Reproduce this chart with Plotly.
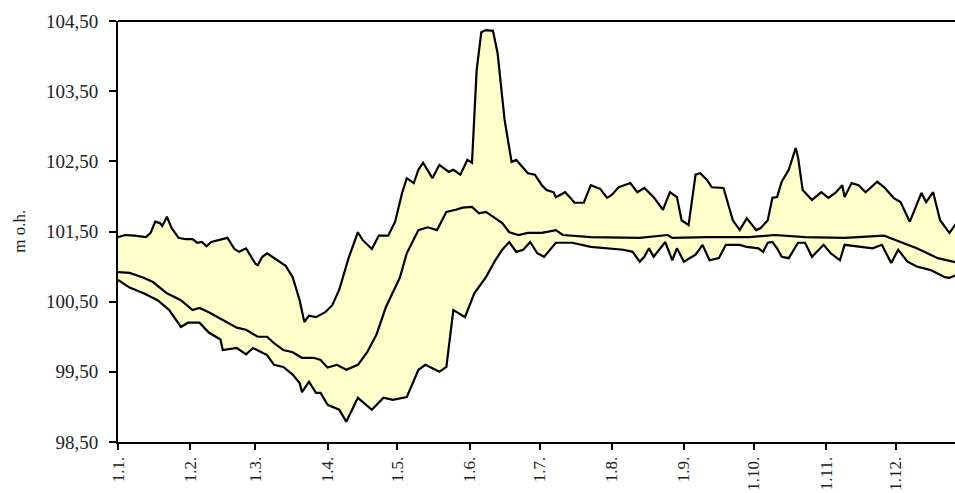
import pandas as pd
import plotly.graph_objects as go

# Daily water level (m o.h.) over the year: maximum, mean and minimum envelopes.
# Positions are given as day offsets from 1 January.
max_days = [
    0, 3, 7, 12, 14, 16, 18, 19, 21, 23,
    26, 29, 32, 34, 36, 38, 40, 44, 47, 50,
    52, 55, 57, 59, 60, 62, 64, 67, 72, 75,
    78, 80, 82, 85, 87, 89, 92, 95, 99, 103,
    105, 109, 112, 116, 119, 122, 124, 127, 129, 131,
    135, 138, 142, 144, 147, 150, 152, 154, 156, 158,
    161, 163, 166, 169, 171, 174, 176, 179, 182, 184,
    187, 188, 192, 194, 196, 200, 203, 206, 207, 210,
    212, 215, 220, 223, 226, 230, 234, 237, 240, 242,
    245, 248, 250, 253, 255, 260, 264, 267, 270, 274,
    276, 279, 281, 283, 285, 288, 291, 292, 294, 298,
    302, 305, 308, 311, 312, 315, 318, 321, 326, 329,
    333, 336, 340, 345, 347, 350, 353, 357, 360,
]
max_level = [
    101.42, 101.45, 101.44, 101.42, 101.48, 101.64, 101.62, 101.58, 101.71, 101.55,
    101.41, 101.39, 101.39, 101.34, 101.35, 101.29, 101.35, 101.38, 101.41, 101.25,
    101.21, 101.26, 101.15, 101.04, 101.02, 101.14, 101.19, 101.12, 101.01, 100.85,
    100.52, 100.21, 100.30, 100.28, 100.32, 100.35, 100.45, 100.67, 101.12, 101.49,
    101.38, 101.25, 101.44, 101.44, 101.64, 102.05, 102.26, 102.19, 102.38, 102.48,
    102.26, 102.45, 102.35, 102.38, 102.31, 102.52, 102.48, 103.80, 104.34, 104.37,
    104.36, 104.04, 103.09, 102.49, 102.52, 102.41, 102.33, 102.31, 102.16, 102.09,
    102.06, 101.99, 102.06, 101.99, 101.91, 101.91, 102.16, 102.12, 102.11, 101.98,
    102.02, 102.13, 102.19, 102.06, 102.12, 101.99, 101.81, 102.06, 101.99, 101.66,
    101.59, 102.31, 102.33, 102.23, 102.13, 102.12, 101.66, 101.52, 101.69, 101.52,
    101.55, 101.66, 101.98, 101.99, 102.21, 102.38, 102.69, 102.56, 102.09, 101.95,
    102.06, 101.98, 102.05, 102.16, 101.99, 102.19, 102.16, 102.06, 102.21, 102.13,
    101.98, 101.92, 101.64, 102.05, 101.92, 102.06, 101.66, 101.48, 101.62,
]

mean_days = [
    0, 5, 11, 15, 21, 27, 32, 35, 39, 43,
    47, 51, 55, 60, 64, 67, 71, 75, 79, 84,
    87, 90, 94, 98, 103, 107, 111, 115, 121, 124,
    129, 133, 137, 141, 145, 148, 152, 155, 158, 161,
    165, 168, 172, 176, 182, 188, 191, 203, 224, 236,
    238, 253, 271, 282, 295, 312, 329, 336, 343, 352,
    360,
]
mean_level = [
    100.92, 100.91, 100.84, 100.78, 100.62, 100.52, 100.38, 100.41, 100.35, 100.28,
    100.21, 100.13, 100.10, 100.00, 100.00, 99.91, 99.81, 99.78, 99.70, 99.70,
    99.67, 99.56, 99.60, 99.53, 99.60, 99.78, 100.03, 100.42, 100.84, 101.19,
    101.52, 101.56, 101.52, 101.78, 101.81, 101.84, 101.85, 101.76, 101.78, 101.71,
    101.62, 101.49, 101.45, 101.48, 101.48, 101.52, 101.45, 101.42, 101.41, 101.45,
    101.41, 101.42, 101.42, 101.45, 101.42, 101.41, 101.44, 101.35, 101.26, 101.12,
    101.06,
]

min_days = [
    0, 5, 11, 17, 22, 27, 30, 35, 39, 44,
    45, 51, 55, 58, 64, 67, 71, 75, 78, 79,
    82, 85, 87, 90, 95, 98, 103, 105, 109, 114,
    118, 124, 129, 132, 138, 141, 144, 149, 153, 158,
    162, 165, 168, 171, 174, 177, 180, 183, 188, 195,
    203, 217, 221, 224, 226, 228, 230, 235, 238, 240,
    243, 248, 251, 254, 258, 261, 267, 270, 275, 277,
    279, 281, 283, 285, 288, 292, 295, 298, 303, 306,
    310, 312, 319, 324, 328, 332, 335, 339, 343, 349,
    355, 357, 360,
]
min_level = [
    100.81, 100.70, 100.62, 100.52, 100.38, 100.14, 100.20, 100.20, 100.06, 99.96,
    99.81, 99.84, 99.75, 99.84, 99.74, 99.60, 99.57, 99.46, 99.34, 99.21,
    99.36, 99.20, 99.20, 99.03, 98.96, 98.79, 99.13, 99.07, 98.96, 99.13,
    99.10, 99.14, 99.53, 99.60, 99.50, 99.57, 100.38, 100.28, 100.62, 100.85,
    101.09, 101.24, 101.35, 101.21, 101.24, 101.35, 101.19, 101.14, 101.34, 101.34,
    101.28, 101.24, 101.21, 101.07, 101.14, 101.26, 101.14, 101.35, 101.09, 101.26,
    101.07, 101.17, 101.31, 101.09, 101.12, 101.31, 101.31, 101.28, 101.26, 101.21,
    101.34, 101.35, 101.26, 101.14, 101.12, 101.34, 101.34, 101.14, 101.31, 101.19,
    101.09, 101.31, 101.28, 101.26, 101.31, 101.05, 101.24, 101.07, 101.00, 100.95,
    100.85, 100.84, 100.88,
]

month_labels = ["1.1.", "1.2.", "1.3.", "1.4.", "1.5.", "1.6.",
                "1.7.", "1.8.", "1.9.", "1.10.", "1.11.", "1.12."]
y_ticks = [98.5, 99.5, 100.5, 101.5, 102.5, 103.5, 104.5]

start = pd.Timestamp("2003-01-01")


def to_dates(days):
    return list(start + pd.to_timedelta(days, unit="D"))


x_max = to_dates(max_days)
x_mean = to_dates(mean_days)
x_min = to_dates(min_days)

FONT = "Liberation Serif"
TEXT = "#222222"
fill_color = "#FFFFCC"

fig = go.Figure()

# Shaded band between the maximum and minimum curves
fig.add_trace(go.Scatter(
    x=x_max + x_min[::-1],
    y=max_level + min_level[::-1],
    fill="toself",
    fillcolor=fill_color,
    line=dict(width=0),
    mode="lines",
    hoverinfo="skip",
    showlegend=False,
))

for xs, ys in ((x_max, max_level), (x_mean, mean_level), (x_min, min_level)):
    fig.add_trace(go.Scatter(
        x=xs, y=ys, mode="lines",
        line=dict(color="black", width=2.2),
        showlegend=False,
    ))

month_starts = list(pd.date_range(start, periods=12, freq="MS"))

fig.update_xaxes(
    range=[start, start + pd.Timedelta(days=359.4)],
    tickmode="array",
    tickvals=month_starts,
    ticktext=month_labels,
    tickangle=-90,
    ticks="outside",
    ticklen=6,
    tickwidth=1.5,
    tickcolor="black",
    showline=True,
    linecolor="black",
    linewidth=2,
    showgrid=False,
    zeroline=False,
    tickfont=dict(family=FONT, size=17, color=TEXT),
)

fig.update_yaxes(
    range=[98.5, 104.5],
    tickmode="array",
    tickvals=y_ticks,
    tickformat=".2f",
    ticks="outside",
    ticklen=7,
    tickwidth=1.5,
    tickcolor="black",
    ticklabelstandoff=7,
    showline=True,
    linecolor="black",
    linewidth=2,
    showgrid=False,
    zeroline=False,
    tickfont=dict(family=FONT, size=19, color=TEXT),
)

# Upper frame line
fig.add_shape(type="line", xref="paper", yref="paper",
              x0=0, x1=1, y0=1, y1=1,
              line=dict(color="black", width=2))

fig.add_annotation(
    text="m o.h.", xref="paper", yref="paper",
    x=-0.118, y=0.5, xanchor="center", yanchor="middle",
    textangle=-90, showarrow=False,
    font=dict(family=FONT, size=17, color=TEXT),
)

fig.update_layout(
    width=955, height=493,
    margin=dict(l=118, r=0, t=21, b=51),
    paper_bgcolor="white",
    plot_bgcolor="white",
    separators=", ",
)

fig.write_html("out.html")
